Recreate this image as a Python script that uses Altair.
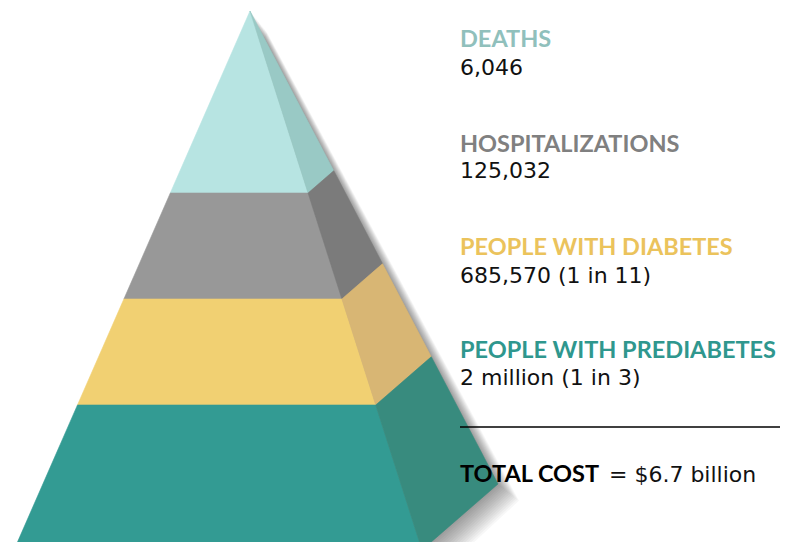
import altair as alt
import pandas as pd

# ---------------- data ----------------
categories = ["DEATHS", "HOSPITALIZATIONS", "PEOPLE WITH DIABETES", "PEOPLE WITH PREDIABETES"]
values = ["6,046", "125,032", "685,570 (1 in 11)", "2 million (1 in 3)"]
total_label = "TOTAL COST"
total_value = "= $6.7 billion"

# ---------------- styles ----------------
front_colors = ["#b7e4e2", "#989898", "#f1d072", "#339b93"]
side_colors = ["#99c9c5", "#7b7b7b", "#d8b674", "#388b7e"]
label_colors = ["#90c0bc", "#808080", "#ebc35c", "#2f978e"]

W, H = 772, 534
# scale units equal page pixels (8px page margin)
xscale = alt.Scale(domain=[8, 8 + W], nice=False, zero=False)
yscale = alt.Scale(domain=[8, 8 + H], reverse=True, nice=False, zero=False)

# pyramid geometry (layout)
APEX = (250, 11)
BASE_L = (14, 550)
BASE_R = (422, 550)
BACK_R = (498, 484)
tier_t = [0.0, 0.3377, 0.5343, 0.731, 1.0]


def lerp(p, q, t):
    return (p[0] + (q[0] - p[0]) * t, p[1] + (q[1] - p[1]) * t)


def poly_to_area(poly):
    xs = sorted(set(round(p[0], 4) for p in poly))
    rows = []
    n = len(poly)
    for x in xs:
        ys = []
        for i in range(n):
            p, q = poly[i], poly[(i + 1) % n]
            lo, hi = min(p[0], q[0]), max(p[0], q[0])
            if lo - 1e-6 <= x <= hi + 1e-6:
                if abs(q[0] - p[0]) < 1e-9:
                    ys += [p[1], q[1]]
                else:
                    t = (x - p[0]) / (q[0] - p[0])
                    ys.append(p[1] + t * (q[1] - p[1]))
        rows.append((x, min(ys), max(ys)))
    return rows


face_rows = []
for i in range(len(categories)):
    t0, t1 = tier_t[i], tier_t[i + 1]
    front = [lerp(APEX, BASE_L, t0), lerp(APEX, BASE_R, t0),
             lerp(APEX, BASE_R, t1), lerp(APEX, BASE_L, t1)]
    side = [lerp(APEX, BASE_R, t0), lerp(APEX, BACK_R, t0),
            lerp(APEX, BACK_R, t1), lerp(APEX, BASE_R, t1)]
    for name, poly, col in [("front", front, front_colors[i]), ("side", side, side_colors[i])]:
        for x, y, y2 in poly_to_area(poly):
            face_rows.append({"face": f"{categories[i]}-{name}", "x": x, "y": y, "y2": y2, "fill": col})
faces_df = pd.DataFrame(face_rows)

shadow_rows = []
for k in range(14):
    d = 1.5 * (k + 1)
    poly = [(APEX[0] + d * 0.8, APEX[1] + d * 1.0), (BACK_R[0] + d, BACK_R[1] + d * 0.8),
            (BASE_R[0] + d, BASE_R[1] + d), (BASE_L[0], BASE_L[1])]
    for x, y, y2 in poly_to_area(poly):
        shadow_rows.append({"face": f"s{k}", "x": x, "y": y, "y2": y2})
shadow_df = pd.DataFrame(shadow_rows)

enc_x = alt.X("x:Q", scale=xscale, axis=None)
enc_y = alt.Y("y:Q", scale=yscale, axis=None, stack=None)

shadow = alt.Chart(shadow_df).mark_area(color="#000000", opacity=0.03, clip=True).encode(
    x=enc_x, y=enc_y, y2="y2:Q", detail="face:N"
)

faces = alt.Chart(faces_df).mark_area(clip=True, strokeWidth=0.6).encode(
    x=enc_x, y=enc_y, y2="y2:Q", detail="face:N",
    color=alt.Color("fill:N", scale=None),
    stroke=alt.Stroke("fill:N", scale=None),
)

# ---------------- text ----------------
TX = 460
head_base = [47, 152, 255, 358]
val_base = [75, 178, 283, 385]
heads_df = pd.DataFrame({
    "x": [TX] * 4 + [TX],
    "y": head_base + [482],
    "text": categories + [total_label],
    "col": label_colors + ["#000000"],
})
vals_df = pd.DataFrame({
    "x": [TX] * 4 + [609],
    "y": val_base + [482],
    "text": values + [total_value],
})

heads = alt.Chart(heads_df).mark_text(
    align="left", baseline="alphabetic", font="Lato", fontWeight="bold", fontSize=23.5
).encode(
    x=alt.X("x:Q", scale=xscale, axis=None),
    y=alt.Y("y:Q", scale=yscale, axis=None),
    text="text:N",
    color=alt.Color("col:N", scale=None),
)

vals = alt.Chart(vals_df).mark_text(
    align="left", baseline="alphabetic", font="DejaVu Sans", fontSize=22, color="#111111"
).encode(
    x=alt.X("x:Q", scale=xscale, axis=None),
    y=alt.Y("y:Q", scale=yscale, axis=None),
    text="text:N",
)

rule_df = pd.DataFrame({"x": [TX], "x2": [8 + W], "y": [427]})
rule = alt.Chart(rule_df).mark_rule(color="#000000", strokeWidth=1.5).encode(
    x=alt.X("x:Q", scale=xscale, axis=None),
    x2="x2:Q",
    y=alt.Y("y:Q", scale=yscale, axis=None),
)

chart = alt.layer(shadow, faces, rule, heads, vals).properties(
    width=W, height=H, padding=0,
    autosize=alt.AutoSizeParams(type="none"),
    background="#ffffff",
).configure_view(stroke=None)

chart.save("out.html", embed_options={"renderer": "svg", "actions": False})
